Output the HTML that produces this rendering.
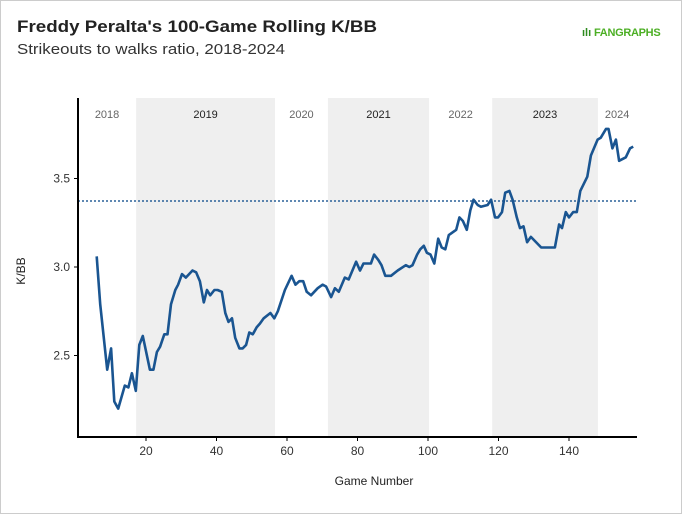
<!DOCTYPE html>
<html><head><meta charset="utf-8"><style>
body{margin:0;background:#fff;font-family:"Liberation Sans",sans-serif}
#wrap{position:relative;width:680px;height:512px;border:1px solid #ccc;overflow:hidden}
</style></head><body>
<div id="wrap">
<svg id="chart" width="680" height="512" style="position:absolute;left:0;top:0">
<text x="16" y="31" font-size="17" font-weight="bold" fill="#222" textLength="360" lengthAdjust="spacingAndGlyphs">Freddy Peralta's 100-Game Rolling K/BB</text>
<text x="16" y="53" font-size="14.5" fill="#333" textLength="268" lengthAdjust="spacingAndGlyphs">Strikeouts to walks ratio, 2018-2024</text>
<g>
<text x="581" y="35" font-size="11" font-weight="bold" fill="#2e8b1e">ılı</text>
<text x="593" y="35" font-size="11" font-weight="bold" fill="#4caf24" letter-spacing="-0.3">FANGRAPHS</text>
</g>
<g id="plot"></g>
<text x="16" y="270" font-size="12" fill="#222" transform="rotate(-90 20 266)" text-anchor="middle">K/BB</text>
<text x="373" y="484" font-size="12" fill="#222" text-anchor="middle">Game Number</text>
</svg>
</div>
<script>
const games=[6.0,7.0,9.0,10.1,11.0,12.1,14.0,15.0,16.0,17.1,18.1,19.1,21.1,22.1,23.1,24.0,25.2,26.1,27.1,28.3,29.1,30.2,31.3,33.2,34.2,35.3,36.4,37.3,38.2,39.4,40.3,41.5,42.5,43.4,44.4,45.3,46.5,47.4,48.4,49.3,50.3,51.4,52.3,53.4,55.3,56.4,57.4,59.4,61.3,62.4,63.5,64.6,65.6,66.8,68.7,70.1,71.1,72.5,73.6,74.7,76.4,77.5,79.6,80.7,81.7,83.8,84.7,85.9,86.8,87.9,89.5,91.4,93.7,94.7,95.6,96.9,97.8,98.8,99.7,100.7,101.8,102.9,103.9,104.9,105.9,108.0,108.9,109.9,111.0,112.0,112.9,114.1,115.0,116.9,117.9,119.0,119.9,121.0,121.9,123.1,124.0,125.2,126.1,127.1,128.1,129.2,132.1,134.9,136.0,137.2,138.0,139.1,140.0,141.2,142.2,143.2,145.2,146.2,148.1,149.0,150.5,151.2,152.3,153.3,154.2,156.1,157.3,158.2];
const kbb=[3.06,2.79,2.42,2.54,2.24,2.20,2.33,2.32,2.40,2.30,2.56,2.61,2.42,2.42,2.52,2.55,2.62,2.62,2.79,2.87,2.90,2.96,2.94,2.98,2.97,2.92,2.80,2.87,2.84,2.87,2.87,2.86,2.74,2.69,2.71,2.60,2.54,2.54,2.56,2.63,2.62,2.66,2.68,2.71,2.74,2.71,2.75,2.87,2.95,2.90,2.92,2.92,2.86,2.84,2.88,2.90,2.89,2.83,2.88,2.86,2.94,2.93,3.03,2.98,3.02,3.02,3.07,3.04,3.01,2.95,2.95,2.98,3.01,3.00,3.01,3.07,3.10,3.12,3.08,3.07,3.02,3.16,3.11,3.10,3.18,3.21,3.28,3.26,3.21,3.32,3.38,3.35,3.34,3.35,3.38,3.28,3.28,3.31,3.42,3.43,3.38,3.28,3.22,3.23,3.14,3.17,3.11,3.11,3.11,3.24,3.22,3.31,3.28,3.31,3.31,3.43,3.51,3.63,3.72,3.73,3.78,3.78,3.67,3.72,3.60,3.62,3.67,3.68];
const careerAvg=3.373;
const seasons=["2018","2019","2020","2021","2022","2023","2024"];
const seasonStart=[0,17.2,56.6,71.6,100.3,118.2,148.2];
const seasonEnd=[17.2,56.6,71.6,100.3,118.2,148.2,159.1];
const xTicks=[20,40,60,80,100,120,140];
const yTicks=[2.5,3.0,3.5];
const yTickLabels=["2.5","3.0","3.5"];

const X=g=>74.5+g*3.525;
const Y=v=>266-(v-3)*177;
const L=77,R=636,T=97,B=436;
const NS="http://www.w3.org/2000/svg";
const plot=document.getElementById('plot');
function mk(tag,attrs){const e=document.createElementNS(NS,tag);for(const k in attrs)e.setAttribute(k,attrs[k]);plot.appendChild(e);return e;}

seasons.forEach((s,i)=>{
  const x1=Math.max(L,X(seasonStart[i])),x2=Math.min(R,X(seasonEnd[i]));
  if(i%2===1){
    const r=mk('rect',{x:x1,y:T,width:x2-x1,height:B-T,fill:'#efefef'});
    
    
  }
  const t=mk('text',{x:(x1+x2)/2,y:117,'font-size':11,'text-anchor':'middle',fill:i%2?'#222':'#666'});
  t.textContent=s;
  
  
});

const avg=mk('line',{x1:L,x2:R,y1:Y(careerAvg),y2:Y(careerAvg),stroke:'#2a6099','stroke-width':1.5,'stroke-dasharray':'2,2'});



const pts=games.map((g,i)=>X(g).toFixed(1)+','+Y(kbb[i]).toFixed(1)).join(' ');
const line=mk('polyline',{points:pts,fill:'none',stroke:'#1a5591','stroke-width':2.6,'stroke-linejoin':'round'});



const ya=mk('line',{x1:L,x2:L,y1:T,y2:B+1,stroke:'#000','stroke-width':2});


const xa=mk('line',{x1:L-1,x2:R,y1:B,y2:B,stroke:'#000','stroke-width':2});



yTicks.forEach((v,i)=>{
  mk('line',{x1:L-4,x2:L,y1:Y(v),y2:Y(v),stroke:'#000'});
  const t=mk('text',{x:L-8,y:Y(v)+4,'font-size':12,'text-anchor':'end',fill:'#333'});
  t.textContent=yTickLabels[i];
  
  
});
xTicks.forEach(g=>{
  mk('line',{x1:X(g),x2:X(g),y1:B,y2:B+4,stroke:'#000'});
  const t=mk('text',{x:X(g),y:B+18,'font-size':12,'text-anchor':'middle',fill:'#333'});
  t.textContent=g;
  
  
});
</script>
</body></html>
